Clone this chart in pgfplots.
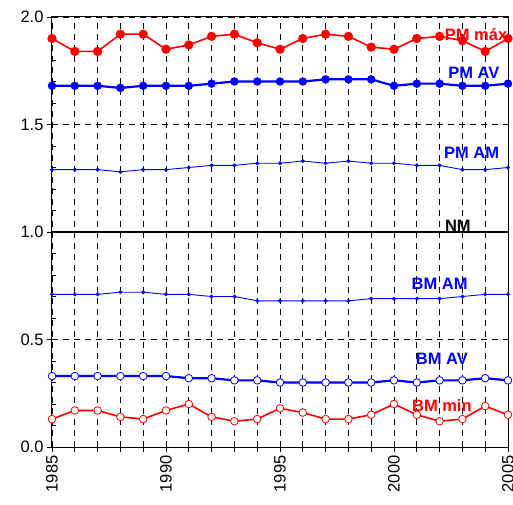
\documentclass[border=0pt]{standalone}
\usepackage{pgfplots}
\pgfplotsset{compat=1.18}
\usepackage{fontspec}
\setmainfont{Liberation Sans}
\begin{document}
\begin{tikzpicture}
\begin{axis}[
  scale only axis, width=456pt, height=430pt,
  xmin=1985, xmax=2005, ymin=0, ymax=2,
  clip=false,
  axis line style={line width=1pt},
  tick pos=left, tick align=outside, major tick length=5pt,
  tick style={black, line width=0.8pt},
  xtick={1985,...,2005},
  xticklabels={1985,,,,,1990,,,,,1995,,,,,2000,,,,,2005},
  x tick label style={rotate=90, anchor=east, font=\fontsize{16.5}{16.5}\selectfont},
  ytick={0,0.5,1,1.5,2},
  yticklabel style={/pgf/number format/fixed,/pgf/number format/precision=1,/pgf/number format/fixed zerofill, font=\fontsize{16.5}{16.5}\selectfont},
  /pgf/number format/assume math mode=true,
  extra y ticks={0.1,0.2,0.3,0.4,0.6,0.7,0.8,0.9,1.1,1.2,1.3,1.4,1.6,1.7,1.8,1.9},
  extra y tick labels={},
  extra y tick style={tick align=inside, major tick length=4pt, grid=none},
  xmajorgrids, ymajorgrids,
  major grid style={black, line width=0.6pt, dash pattern=on 6pt off 5pt},
]
% NM line
\addplot[black, line width=2pt, no marks] coordinates {(1985,1) (2005,1)};
% PM max
\addplot[red, line width=1.6pt, mark=*, mark size=3.8pt, mark options={fill=red}] coordinates {
(1985,1.90) (1986,1.84) (1987,1.84) (1988,1.92) (1989,1.92) (1990,1.85) (1991,1.87)
(1992,1.91) (1993,1.92) (1994,1.88) (1995,1.85) (1996,1.90) (1997,1.92) (1998,1.91)
(1999,1.86) (2000,1.85) (2001,1.90) (2002,1.91) (2003,1.89) (2004,1.84) (2005,1.90)};
% PM AV
\addplot[blue, line width=2.2pt, mark=*, mark size=3.8pt, mark options={fill=blue, line width=0.8pt}] coordinates {
(1985,1.68) (1986,1.68) (1987,1.68) (1988,1.67) (1989,1.68) (1990,1.68) (1991,1.68)
(1992,1.69) (1993,1.70) (1994,1.70) (1995,1.70) (1996,1.70) (1997,1.71) (1998,1.71)
(1999,1.71) (2000,1.68) (2001,1.69) (2002,1.69) (2003,1.68) (2004,1.68) (2005,1.69)};
% PM AM
\addplot[blue, line width=0.9pt, mark=*, mark size=1.5pt, mark options={fill=blue}] coordinates {
(1985,1.29) (1986,1.29) (1987,1.29) (1988,1.28) (1989,1.29) (1990,1.29) (1991,1.30)
(1992,1.31) (1993,1.31) (1994,1.32) (1995,1.32) (1996,1.33) (1997,1.32) (1998,1.33)
(1999,1.32) (2000,1.32) (2001,1.31) (2002,1.31) (2003,1.29) (2004,1.29) (2005,1.30)};
% BM AM
\addplot[blue, line width=0.9pt, mark=o, mark size=1.5pt, mark options={fill=white}] coordinates {
(1985,0.71) (1986,0.71) (1987,0.71) (1988,0.72) (1989,0.72) (1990,0.71) (1991,0.71)
(1992,0.70) (1993,0.70) (1994,0.68) (1995,0.68) (1996,0.68) (1997,0.68) (1998,0.68)
(1999,0.69) (2000,0.69) (2001,0.69) (2002,0.69) (2003,0.70) (2004,0.71) (2005,0.71)};
% BM AV
\addplot[blue, line width=2.2pt, mark=*, mark size=3.8pt, mark options={fill=white, line width=0.8pt}] coordinates {
(1985,0.33) (1986,0.33) (1987,0.33) (1988,0.33) (1989,0.33) (1990,0.33) (1991,0.32)
(1992,0.32) (1993,0.31) (1994,0.31) (1995,0.30) (1996,0.30) (1997,0.30) (1998,0.30)
(1999,0.30) (2000,0.31) (2001,0.30) (2002,0.31) (2003,0.31) (2004,0.32) (2005,0.31)};
% BM min
\addplot[red, line width=1.6pt, mark=*, mark size=3.8pt, mark options={fill=white, line width=0.8pt}] coordinates {
(1985,0.13) (1986,0.17) (1987,0.17) (1988,0.14) (1989,0.13) (1990,0.17) (1991,0.20)
(1992,0.14) (1993,0.12) (1994,0.13) (1995,0.18) (1996,0.16) (1997,0.13) (1998,0.13)
(1999,0.15) (2000,0.20) (2001,0.15) (2002,0.12) (2003,0.13) (2004,0.19) (2005,0.15)};
\node[red, font=\bfseries\fontsize{16.5}{16.5}\selectfont] at (axis cs:2003.6,1.92) {PM máx};
\node[blue, font=\bfseries\fontsize{16.5}{16.5}\selectfont] at (axis cs:2003.5,1.74) {PM AV};
\node[blue, font=\bfseries\fontsize{16.5}{16.5}\selectfont] at (axis cs:2003.4,1.37) {PM AM};
\node[black, font=\bfseries\fontsize{16.5}{16.5}\selectfont] at (axis cs:2002.8,1.03) {NM};
\node[blue, font=\bfseries\fontsize{16.5}{16.5}\selectfont] at (axis cs:2002.0,0.757) {BM AM};
\node[blue, font=\bfseries\fontsize{16.5}{16.5}\selectfont] at (axis cs:2002.1,0.408) {BM AV};
\node[red, font=\bfseries\fontsize{16.5}{16.5}\selectfont] at (axis cs:2002.1,0.192) {BM min};
\end{axis}
\pgfresetboundingbox
\path (-52pt,-57pt) rectangle (461pt,447pt);
\end{tikzpicture}
\end{document}
